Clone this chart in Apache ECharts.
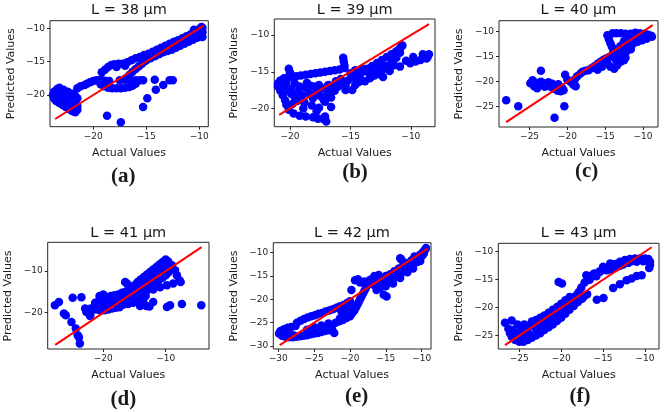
<!DOCTYPE html>
<html><head><meta charset="utf-8">
<script src="https://cdn.jsdelivr.net/npm/echarts@6/dist/echarts.min.js"></script>
<style>html,body{margin:0;padding:0;background:#fff}#c{width:665px;height:412px}</style>
</head><body><div id="c"></div>
<script>
// ---- Data: [actual, predicted] pairs ----
const titles = ['L = 38 \u00b5m','L = 39 \u00b5m','L = 40 \u00b5m','L = 41 \u00b5m','L = 42 \u00b5m','L = 43 \u00b5m'];
const panelLabels = ['(a)','(b)','(c)','(d)','(e)','(f)'];

const points38 = [
[-23.7,-19.5],[-23.8,-20.0],[-23.7,-20.5],[-23.5,-20.9],[-23.2,-21.2],[-22.9,-21.5],[-22.6,-21.8],[-22.3,-22.1],[-22.0,-22.4],[-21.7,-22.6],[-21.5,-22.2],[-21.5,-21.7],[-21.7,-21.2],[-22.0,-20.8],[-22.3,-20.5],[-22.6,-20.2],[-22.9,-19.9],[-23.2,-19.6],[-23.4,-19.1],[-23.2,-18.9],[-22.8,-19.2],[-22.4,-19.5],[-22.0,-19.8],[-21.7,-20.1],[-21.5,-20.5],[-23.5,-20.3],[-23.2,-20.7],[-22.9,-21.0],[-22.6,-21.3],[-22.3,-21.6],[-22.0,-21.9],[-21.8,-21.6],
[-21.5,-19.0],[-21.2,-18.7],[-20.8,-18.5],[-20.6,-18.3],
[-20.3,-18.1],[-20.0,-17.9],[-19.7,-17.8],[-19.4,-17.8],[-19.1,-17.8],[-18.8,-17.9],[-18.5,-17.9],
[-19.3,-18.4],[-19.0,-18.7],[-18.6,-18.9],[-18.2,-19.0],[-17.8,-19.0],[-17.4,-19.0],[-17.0,-18.9],[-16.6,-18.8],[-16.3,-18.6],[-16.0,-18.3],
[-17.5,-17.8],[-17.0,-17.7],[-16.5,-17.7],[-16.0,-17.8],[-15.6,-17.8],[-15.3,-17.8],
[-16.9,-17.5],[-16.6,-17.0],[-16.3,-16.5],[-16.0,-16.1],[-15.7,-15.7],[-15.4,-15.3],[-15.1,-14.9],
[-19.2,-16.6],[-18.9,-16.2],[-18.6,-15.8],[-18.3,-15.5],[-18.0,-15.4],[-17.6,-15.3],[-17.2,-15.3],[-16.8,-15.1],[-16.4,-14.8],[-16.0,-14.5],[-15.6,-14.3],[-15.2,-14.0],
[-14.8,-13.8],[-14.4,-13.5],[-14.0,-13.2],[-13.6,-12.9],[-13.2,-12.6],[-12.8,-12.3],[-12.4,-12.0],[-12.0,-11.8],[-11.6,-11.5],[-11.2,-11.2],[-10.8,-10.9],[-10.4,-10.6],[-10.0,-10.2],[-9.8,-9.8],[-9.9,-10.0],
[-15.0,-14.8],[-14.6,-14.5],[-14.2,-14.2],[-13.8,-13.9],[-13.4,-13.6],[-13.0,-13.4],[-12.6,-13.2],[-12.2,-12.9],[-11.8,-12.6],[-11.4,-12.3],[-11.0,-12.0],[-10.6,-11.7],[-10.2,-11.4],[-9.8,-11.1],[-9.7,-10.6],
[-10.5,-10.2],[-10.1,-10.8],[-9.7,-11.3],[-10.3,-11.0],[-11.0,-11.4],
[-14.6,-14.0],[-13.9,-13.6],[-13.1,-13.0],[-12.3,-12.5],[-11.5,-12.0],[-10.7,-11.3],[-10.0,-10.5],[-9.7,-9.9],[-17.8,-15.8],[-17.0,-15.6],
[-14.2,-17.7],[-14.1,-19.2],[-13.4,-18.5],[-12.8,-17.8],[-12.5,-17.8],[-14.9,-20.5],[-15.3,-21.8],[-18.7,-23.1],[-17.4,-24.1]
];
const points39 = [
[-21.0,-16.6],[-20.8,-16.2],[-20.5,-15.9],[-20.2,-15.8],[-19.9,-15.7],[-19.5,-15.6],[-19.1,-15.5],[-18.7,-15.4],[-18.3,-15.3],[-17.9,-15.2],[-17.5,-15.1],[-17.1,-15.0],[-16.7,-14.9],[-16.3,-14.8],[-15.9,-14.7],[-15.5,-14.5],
[-20.1,-14.6],[-20.0,-15.1],[-15.6,-13.1],[-15.55,-13.6],[-15.5,-14.1],
[-21.0,-17.0],[-20.8,-17.6],[-20.6,-18.2],[-20.4,-18.9],[-20.3,-19.5],[-20.1,-20.2],[-19.7,-20.7],[-19.2,-21.0],[-18.7,-21.1],[-18.1,-21.2],[-17.7,-21.4],[-17.3,-21.4],[-17.1,-21.1],[-17.0,-21.8],
[-20.5,-17.0],[-20.2,-17.5],[-19.9,-18.0],[-19.6,-18.5],[-19.3,-17.7],[-19.0,-18.2],[-18.7,-17.2],[-18.4,-18.0],[-18.1,-18.6],[-17.8,-17.6],[-17.5,-18.3],[-17.2,-18.9],[-16.9,-17.9],[-16.6,-18.5],[-16.3,-17.6],[-17.1,-19.1],[-16.6,-19.8],[-18.3,-16.9],[-19.9,-17.3],[-17.6,-16.8],[-16.9,-16.9],[-16.4,-17.05],[-16.8,-16.8],
[-20.7,-16.8],[-20.3,-16.4],[-19.6,-16.6],[-19.2,-17.0],[-18.6,-16.5],[-18.0,-17.0],[-17.4,-17.3],[-16.8,-17.5],[-16.2,-16.3],[-15.8,-16.0],[-19.4,-19.0],[-18.8,-19.2],[-18.2,-19.6],[-17.6,-19.9],[-19.8,-19.4],[-18.9,-20.0],[-17.8,-20.4],
[-16.0,-17.0],[-15.6,-16.6],[-15.2,-16.2],[-14.8,-15.8],[-14.4,-15.4],[-14.0,-15.0],[-13.6,-14.6],[-13.2,-14.2],[-12.8,-13.8],[-12.4,-13.4],[-12.0,-13.0],[-11.6,-12.6],[-11.2,-12.2],[-10.9,-11.8],[-10.7,-11.4],[-10.8,-11.6],
[-10.9,-12.4],[-11.2,-13.1],[-11.6,-13.7],[-12.0,-14.2],[-12.4,-14.6],[-12.8,-14.9],[-13.2,-15.0],
[-15.4,-16.8],[-14.3,-16.4],[-13.4,-15.9],[-12.6,-15.3],[-11.75,-14.9],[-10.9,-14.3],[-10.05,-13.85],[-9.2,-13.4],[-8.6,-12.95],[-8.5,-12.6],[-8.7,-13.2],[-9.6,-13.6],
[-15.0,-15.2],[-14.6,-14.8],[-14.2,-15.9],[-13.8,-16.3],[-13.0,-15.5],[-12.2,-14.6],[-11.4,-14.1],[-10.4,-13.5],[-9.8,-13.0],[-9.0,-12.6],[-11.5,-12.9],[-12.5,-13.9],
[-14.0,-14.55],[-13.6,-15.0],[-13.15,-14.3],[-12.9,-15.0],[-13.3,-15.7],[-12.3,-15.7],[-14.6,-16.8],[-14.85,-17.5],[-15.4,-17.5]
];
const points40 = [
[-28.1,-23.7],[-26.5,-24.9],[-21.7,-27.2],[-20.4,-24.9],
[-24.9,-20.3],[-24.6,-19.7],[-24.4,-20.9],[-24.0,-21.3],[-23.7,-20.7],[-23.5,-20.0],[-24.2,-20.2],[-23.5,-17.8],
[-23.1,-20.3],[-22.7,-20.7],[-22.2,-21.0],[-21.8,-21.4],[-21.3,-21.8],[-20.9,-21.9],[-20.5,-21.7],[-21.5,-21.0],[-22.0,-20.4],[-20.7,-21.2],[-22.5,-20.1],[-21.2,-20.5],[-23.0,-21.0],
[-20.3,-18.6],[-20.0,-19.6],[-19.6,-20.0],[-18.9,-20.9],
[-19.2,-20.6],[-19.0,-19.5],[-18.7,-18.9],[-18.3,-18.4],[-18.0,-18.0],[-17.6,-17.8],[-17.2,-17.7],[-16.8,-17.3],[-16.4,-16.9],[-16.0,-16.4],[-15.6,-16.0],[-15.2,-15.6],[-14.8,-15.3],[-14.4,-15.0],[-14.0,-14.6],[-13.6,-14.2],[-13.2,-13.8],[-12.8,-13.4],[-12.4,-13.0],[-12.0,-12.6],[-11.6,-12.2],[-11.2,-11.8],[-10.8,-11.4],[-10.4,-11.1],[-10.0,-10.8],[-9.6,-10.6],[-9.2,-10.9],[-8.8,-11.0],
[-14.7,-10.7],[-14.5,-11.5],[-14.3,-12.3],[-14.1,-13.0],[-13.9,-13.8],[-13.7,-14.6],
[-14.0,-10.3],[-13.5,-10.3],[-12.9,-10.3],[-12.3,-10.4],
[-11.6,-10.4],[-11.0,-10.2],[-10.4,-10.3],[-9.8,-10.4],[-9.3,-10.6],[-8.9,-10.8],[-9.5,-11.4],[-10.1,-11.7],[-10.7,-12.0],[-11.3,-12.4],[-11.8,-13.0],[-11.4,-11.0],[-10.9,-11.5],[-12.1,-11.6],[-12.5,-11.9],
[-10.2,-10.8],[-9.8,-11.2],[-11.8,-11.4],[-12.6,-12.4],[-13.0,-12.9],[-12.8,-14.6],[-12.2,-14.0],[-11.6,-13.5],
[-14.7,-16.3],[-14.3,-17.0],[-13.8,-17.4],[-13.4,-16.7],[-12.95,-16.0],[-12.5,-15.7],[-12.3,-15.2],[-13.0,-15.3],[-13.6,-15.6],[-15.4,-17.0],[-16.0,-17.6]
];
const points41 = [
[-27.75,-18.2],[-27.1,-17.4],[-26.3,-20.2],[-26.0,-20.6],[-25.1,-22.2],[-24.9,-16.4],[-23.5,-16.3],[-24.4,-23.8],[-24.1,-25.4],[-23.9,-25.9],[-23.75,-27.4],
[-22.9,-19.0],[-22.4,-19.4],[-22.1,-20.6],[-22.7,-19.8],[-22.0,-19.0],[-22.1,-20.8],
[-21.6,-19.3],[-21.0,-19.2],[-20.4,-19.5],[-19.8,-19.4],[-19.2,-19.2],[-18.6,-19.0],[-18.0,-18.8],[-17.4,-18.7],
[-21.0,-18.3],[-20.4,-18.0],[-19.8,-17.8],[-19.2,-17.6],[-18.6,-17.5],[-18.0,-17.4],[-17.4,-17.2],[-16.8,-17.0],[-16.2,-16.8],[-15.6,-16.6],[-15.0,-16.5],[-14.4,-16.4],[-13.8,-16.2],[-13.2,-16.0],
[-21.3,-17.6],[-20.7,-17.2],[-20.1,-16.8],[-19.5,-16.6],[-18.9,-16.8],[-18.3,-16.6],[-17.7,-16.4],[-17.1,-16.2],[-16.5,-16.0],[-15.9,-15.6],[-15.3,-15.4],[-14.7,-15.0],[-14.1,-14.6],[-13.5,-14.2],[-12.9,-13.8],[-12.3,-13.3],[-11.7,-12.8],[-11.1,-12.2],[-10.5,-11.6],[-10.0,-11.0],[-9.6,-10.4],[-16.8,-18.1],[-16.0,-17.9],[-15.2,-17.6],[-14.4,-17.3],[-13.6,-17.1],[-19.8,-18.6],[-17.6,-18.1],
[-20.6,-16.0],[-20.0,-15.6],[-19.4,-16.2],[-18.8,-16.0],[-18.2,-15.8],[-17.6,-15.6],[-17.0,-15.2],[-16.4,-14.9],[-15.8,-14.6],[-15.2,-14.2],[-14.6,-13.8],[-14.0,-13.4],[-13.4,-13.0],[-12.8,-12.5],[-12.2,-12.0],[-11.6,-11.4],[-11.0,-10.8],[-10.5,-10.2],[-10.0,-9.6],[-9.6,-9.0],[-9.4,-8.3],[-9.6,-7.7],[-10.0,-7.2],[-10.5,-7.8],[-11.0,-8.4],[-11.5,-9.0],[-12.0,-9.6],[-12.5,-10.2],[-13.0,-10.8],[-13.5,-11.4],[-14.0,-12.0],[-14.5,-12.6],
[-12.5,-11.2],[-11.8,-10.5],[-11.2,-9.9],[-10.6,-9.3],[-10.2,-8.6],[-13.6,-12.4],[-15.0,-13.4],[-15.6,-13.9],
[-16.5,-12.6],[-16.2,-13.0],
[-9.0,-8.6],[-8.5,-9.8],[-8.2,-11.0],[-7.8,-12.2],[-7.6,-12.6],[-8.8,-13.0],[-9.8,-13.4],[-10.9,-13.9],[-12.0,-14.4],[-13.05,-14.7],[-14.1,-14.95],
[-14.1,-18.4],[-13.1,-18.4],[-12.0,-17.4],[-9.8,-18.6],[-9.3,-18.2],[-7.4,-17.9],[-4.3,-18.2],[-12.6,-18.5]
];
const points42 = [
[-29.9,-27.3],[-29.7,-26.8],[-29.5,-27.8],[-29.2,-26.4],[-29.0,-27.5],[-28.7,-26.1],[-28.5,-27.6],[-28.2,-25.9],[-27.9,-27.7],[-27.6,-25.7],
[-27.4,-25.0],[-26.9,-24.6],[-26.4,-24.2],[-25.9,-23.9],[-25.4,-23.6],[-24.9,-23.4],[-24.4,-23.1],[-23.9,-22.9],[-23.4,-22.6],[-22.9,-22.4],[-22.4,-22.1],[-21.9,-21.8],[-21.4,-21.5],[-20.9,-21.2],[-20.4,-20.8],[-20.0,-20.4],
[-29.0,-28.0],[-28.5,-28.1],[-28.0,-28.1],[-27.5,-28.0],[-27.0,-27.9],[-26.5,-27.8],[-26.0,-27.7],[-25.5,-27.5],[-25.0,-27.3],[-24.5,-27.2],[-24.0,-27.0],[-23.5,-26.8],[-23.0,-26.6],[-22.5,-26.4],[-22.2,-27.2],[-24.2,-26.6],[-23.3,-26.2],
[-26.0,-26.5],[-25.0,-26.0],[-24.0,-25.6],[-23.0,-25.2],[-22.0,-25.0],[-21.5,-24.7],[-21.0,-24.4],[-20.5,-24.0],[-20.0,-23.6],[-19.7,-23.0],[-19.4,-22.4],[-19.2,-21.8],[-19.0,-21.2],[-18.8,-20.6],[-18.6,-20.0],[-18.4,-19.4],[-18.2,-18.8],[-18.0,-18.2],[-17.8,-17.6],[-17.6,-17.0],[-17.4,-16.4],[-17.2,-15.9],
[-21.4,-24.1],[-20.7,-23.4],[-20.2,-22.3],[-19.8,-21.6],[-21.2,-22.6],
[-19.3,-15.9],[-18.9,-15.7],[-18.6,-16.4],[-19.8,-18.0],
[-18.0,-16.2],[-17.2,-15.8],[-16.5,-15.5],[-15.8,-15.3],[-15.0,-15.0],[-14.4,-14.6],[-13.8,-14.0],[-13.2,-13.4],[-12.6,-12.8],[-12.0,-12.2],[-11.4,-11.6],[-10.8,-11.0],[-10.2,-10.4],[-9.8,-9.8],[-9.5,-9.3],[-9.4,-9.0],
[-16.3,-18.0],[-15.8,-17.5],[-15.3,-17.0],[-14.8,-16.4],[-14.3,-15.8],[-13.8,-15.3],[-13.3,-14.8],[-12.8,-14.2],[-12.3,-13.6],[-11.8,-13.0],[-11.3,-12.4],[-10.8,-11.8],[-10.3,-11.2],[-9.9,-10.6],
[-15.0,-16.0],[-14.0,-15.0],[-13.0,-14.0],[-12.0,-13.0],[-11.0,-12.2],[-10.5,-11.6],
[-16.8,-16.8],[-16.0,-16.5],[-15.5,-16.0],[-14.5,-15.5],[-13.5,-14.6],[-12.5,-13.7],[-11.5,-12.8],[-10.6,-12.0],[-12.0,-14.2],[-11.2,-13.4],[-13.0,-15.4],[-14.0,-16.6],[-15.0,-17.2],[-10.2,-11.8],[-9.7,-10.2],[-16.6,-15.0],[-16.0,-14.8],[-11.0,-10.8],
[-15.3,-19.0],[-14.9,-19.4],[-13.0,-11.2],[-12.8,-11.5]
];
const points43 = [
[-26.7,-22.7],[-26.3,-23.8],[-26.1,-24.6],[-25.9,-25.2],[-25.5,-25.8],[-25.0,-26.1],[-24.5,-26.1],[-24.0,-25.8],[-23.5,-25.4],[-23.0,-25.0],[-22.5,-24.6],[-25.9,-22.3],[-25.2,-23.0],[-24.7,-23.6],[-24.2,-24.1],[-25.8,-24.0],[-25.3,-24.6],[-24.8,-25.0],[-24.3,-25.3],[-23.8,-24.7],[-24.4,-23.0],[-23.9,-23.4],
[-23.5,-22.5],[-23.0,-22.2],[-22.5,-21.8],[-22.0,-21.4],[-21.5,-20.9],[-21.0,-20.4],[-20.5,-19.9],[-20.0,-19.3],[-19.5,-18.7],[-19.0,-18.1],
[-22.0,-24.0],[-21.5,-23.5],[-21.0,-23.0],[-20.5,-22.4],[-20.0,-21.8],[-19.5,-21.1],[-19.0,-20.4],[-18.5,-19.7],[-18.0,-19.0],[-17.5,-18.4],
[-22.5,-23.0],[-21.8,-22.5],[-21.2,-21.9],[-20.6,-21.2],[-20.0,-20.5],[-19.4,-19.8],[-18.8,-19.2],
[-23.0,-23.8],[-22.2,-23.4],[-21.4,-22.8],[-20.8,-22.0],[-21.6,-21.6],[-20.2,-20.9],[-19.6,-20.2],[-19.2,-19.0],[-18.6,-18.6],[-24.8,-23.8],[-22.8,-24.2],[-22.0,-22.8],
[-20.3,-15.4],[-19.9,-15.7],
[-18.3,-18.0],[-17.9,-17.2],[-17.6,-16.4],[-17.2,-15.5],[-16.8,-14.8],[-16.4,-14.3],[-16.0,-13.9],[-15.4,-13.5],[-14.8,-13.1],[-14.2,-12.6],[-13.6,-12.2],[-13.0,-11.8],[-12.4,-11.5],[-11.8,-11.3],[-11.2,-11.2],[-10.6,-11.2],[-10.0,-11.2],[-9.6,-11.3],[-9.4,-11.8],[-9.4,-12.4],[-9.5,-12.9],[-10.2,-11.7],[-11.0,-11.8],[-12.0,-12.0],[-13.0,-12.5],[-14.0,-13.2],
[-16.6,-15.0],[-15.8,-14.4],[-13.4,-12.8],[-12.6,-12.3],[-11.6,-11.7],[-10.8,-11.5],[-10.0,-11.6],
[-17.0,-14.2],[-16.15,-14.0],[-15.35,-13.6],[-14.55,-13.3],[-15.0,-12.7],[-14.15,-12.1],
[-18.5,-18.2],[-18.1,-17.7],[-17.7,-18.3],[-17.3,-18.0],[-16.9,-17.6],
[-15.75,-18.6],[-14.95,-18.3],[-13.8,-16.5],[-13.0,-15.8],[-12.2,-15.1],[-11.6,-14.8],[-11.0,-14.35],[-10.4,-14.2]
];
const allPoints = [points38, points39, points40, points41, points42, points43];

// y = x reference line, from min to max actual value
const diag = [[-23.6,-9.6],[-20.9,-8.5],[-28.1,-8.7],[-27.7,-4.25],[-29.8,-9.2],[-26.7,-9.2]];

// axis ranges and tick labels
const xRanges = [[-24.08,-9.15],[-21.3,-8.0],[-29.05,-8.0],[-28.9,-3.06],[-30.7,-8.7],[-27.5,-8.33]];
const yRanges = [[-24.75,-8.86],[-22.5,-7.8],[-29.06,-7.8],[-28.7,-3.1],[-30.64,-7.86],[-27.4,-8.5]];
const xTicks = [[-20,-15,-10],[-20,-15,-10],[-25,-20,-15,-10],[-20,-10],[-30,-25,-20,-15,-10],[-25,-20,-15,-10]];
const yTicks = [[-20,-15,-10],[-20,-15,-10],[-25,-20,-15,-10],[-20,-10],[-30,-25,-20,-15,-10],[-25,-20,-15,-10]];

// ---- Layout (pixels) ----
const boxes = [
  {l:50, t:20.7, w:158.3, h:106},
  {l:274.3, t:19, w:160.7, h:107.7},
  {l:499, t:20.7, w:159, h:106.3},
  {l:47.7, t:242.3, w:161.3, h:106.7},
  {l:273.3, t:242.7, w:157.7, h:106.3},
  {l:498.3, t:243.3, w:160.7, h:105.7}
];
const titlePos = [[129,10.5],[354.7,10.5],[578.5,10.5],[128.3,233.3],[352,233.3],[578.7,233.3]];
const xNamePos = [[129,153.3],[354.7,153.3],[578.5,153.3],[128.3,375],[352,375],[578.7,375]];
const yNamePos = [[10.7,73.7],[234,73],[458.8,74],[8.6,296],[234,296],[459.3,296]];
const labelPos = [[123.3,176.7],[355,172.5],[586.7,171.7],[123.3,400],[356.7,396.7],[580,396.7]];

const minus = v => String(v).replace('-', '\u2212');
const tickFont = {fontSize:9, color:'#262626', fontFamily:'DejaVu Sans'};

const grid = [], xAxis = [], yAxis = [], series = [], graphic = [];
function txt(x, y, text, font, rot) {
  const el = {type:'text', x:x, y:y, z:100,
    style:{text:text, font:font, fill:'#1a1a1a', align:'center', verticalAlign:'middle', textAlign:'center', textVerticalAlign:'middle'}};
  if (rot) el.rotation = rot;
  return el;
}
for (let i = 0; i < 6; i++) {
  const b = boxes[i];
  grid.push({left:b.l, top:b.t, width:b.w, height:b.h, show:true, borderColor:'#262626', borderWidth:1, backgroundColor:'transparent', containLabel:false});
  xAxis.push({type:'value', gridIndex:i, min:xRanges[i][0], max:xRanges[i][1],
    splitLine:{show:false}, axisLine:{show:false},
    axisTick:{show:true, inside:false, length:3, customValues:xTicks[i], lineStyle:{color:'#262626', width:1}},
    axisLabel:Object.assign({show:true, margin:5, customValues:xTicks[i], formatter:minus}, tickFont)});
  yAxis.push({type:'value', gridIndex:i, min:yRanges[i][0], max:yRanges[i][1],
    splitLine:{show:false}, axisLine:{show:false},
    axisTick:{show:true, inside:false, length:3, customValues:yTicks[i], lineStyle:{color:'#262626', width:1}},
    axisLabel:Object.assign({show:true, margin:5, customValues:yTicks[i], formatter:minus}, tickFont)});
  series.push({type:'scatter', xAxisIndex:i, yAxisIndex:i, data:allPoints[i], symbolSize:8.5,
    itemStyle:{color:'#0000ff', opacity:1}, z:2, clip:true});
  series.push({type:'line', xAxisIndex:i, yAxisIndex:i,
    data:[[diag[i][0],diag[i][0]],[diag[i][1],diag[i][1]]], symbol:'none',
    lineStyle:{color:'#ff0000', width:2}, z:3});
  graphic.push(txt(titlePos[i][0], titlePos[i][1], titles[i], '14.5px "DejaVu Sans"'));
  graphic.push(txt(xNamePos[i][0], xNamePos[i][1], 'Actual Values', '11px "DejaVu Sans"'));
  graphic.push(txt(yNamePos[i][0], yNamePos[i][1], 'Predicted Values', '11px "DejaVu Sans"', Math.PI/2));
  graphic.push(txt(labelPos[i][0], labelPos[i][1], panelLabels[i], 'bold 21px "Liberation Serif"'));
}

const chart = echarts.init(document.getElementById('c'), null, {renderer:'canvas'});
chart.setOption({animation:false, backgroundColor:'#fff', grid, xAxis, yAxis, series, graphic});
</script>
</body></html>
